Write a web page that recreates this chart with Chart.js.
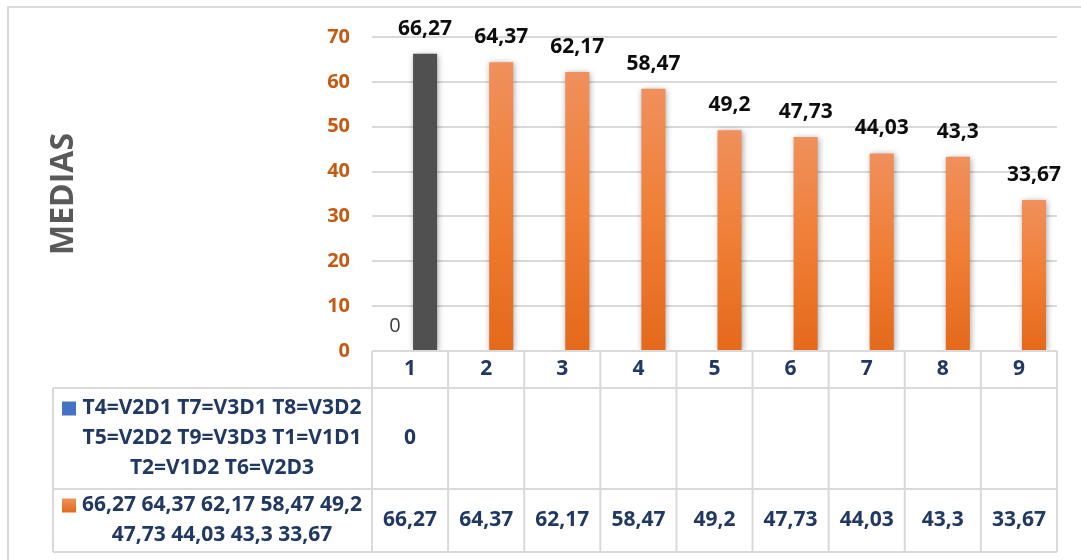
<!DOCTYPE html>
<html>
<head>
<meta charset="utf-8">
<title>Medias</title>
<script src="https://cdn.jsdelivr.net/npm/chart.js@4.4.1/dist/chart.umd.min.js"></script>
<style>
  html, body { margin:0; padding:0; background:#fff; }
  #wrap { width:1081px; height:560px; }
</style>
</head>
<body>
<div id="wrap"><canvas id="chart" width="1081" height="560"></canvas></div>
<script>
// category numbers along the x axis
const categories = ['1','2','3','4','5','6','7','8','9'];
// series 1: only the first category carries a value
const seriesA = [0, null, null, null, null, null, null, null, null];
const seriesAName = ['T4=V2D1 T7=V3D1 T8=V3D2', 'T5=V2D2 T9=V3D3 T1=V1D1', 'T2=V1D2 T6=V2D3'];
// series 2: means per treatment
const seriesB = [66.27, 64.37, 62.17, 58.47, 49.2, 47.73, 44.03, 43.3, 33.67];
const seriesBName = ['66,27 64,37 62,17 58,47 49,2', '47,73 44,03 43,3 33,67'];
const yTicks = [0, 10, 20, 30, 40, 50, 60, 70];

const FONT = '"Open Sans", Lato, sans-serif';
const NAVY = '#203864';
const GRID = '#D9D9D9';
const BLUE = '#4472C4';

// table geometry below the plot
const headerH = 37, row1H = 101, row2H = 63, tableLeft = 53;

function fmt(v){ return String(v).replace('.', ','); }

function orangeFill(ctx){
  if(ctx.type !== 'data') return '#ED7D31';
  if(ctx.dataIndex === 0) return '#505050';
  const chart = ctx.chart;
  const y = chart.scales.y;
  if(!y || !chart.chartArea) return '#ED7D31';
  const top = y.getPixelForValue(ctx.raw);
  const bottom = y.getPixelForValue(0);
  const g = chart.ctx.createLinearGradient(0, top, 0, bottom);
  g.addColorStop(0, '#F0905C');
  g.addColorStop(0.5, '#F07E35');
  g.addColorStop(1, '#E4691B');
  return g;
}

// frame line, bar shadows, value labels and the data table
const excelLook = {
  id: 'excelLook',
  beforeDraw(chart){
    const c = chart.ctx;
    c.save();
    c.fillStyle = '#fff';
    c.fillRect(0, 0, chart.width, chart.height);
    c.strokeStyle = GRID; c.lineWidth = 2;
    c.beginPath();
    c.moveTo(8, chart.height); c.lineTo(8, 7); c.lineTo(chart.width, 7);
    c.stroke();
    c.restore();
  },
  beforeDatasetsDraw(chart){
    const c = chart.ctx;
    c.save();
    c.shadowColor = 'rgba(0,0,0,0.35)';
    c.shadowBlur = 6;
    c.shadowOffsetX = 1;
    c.shadowOffsetY = 1;
  },
  afterDatasetsDraw(chart){
    const c = chart.ctx;
    c.restore();
    c.save();
    c.textAlign = 'center'; c.textBaseline = 'middle';
    chart.data.datasets.forEach((ds, di) => {
      const meta = chart.getDatasetMeta(di);
      meta.data.forEach((bar, i) => {
        const v = ds.data[i];
        if(v === null || v === undefined) return;
        if(di === 0){ c.font = '20px ' + FONT; c.fillStyle = '#404040'; }
        else { c.font = 'bold 21px ' + FONT; c.fillStyle = '#0D0D0D'; }
        c.fillText(fmt(v), bar.x, bar.y - 25);
      });
    });
    c.restore();
  },
  afterDraw(chart){
    const c = chart.ctx;
    const area = chart.chartArea;
    const x = chart.scales.x;
    const n = categories.length;
    const edges = [area.left];
    for(let i = 1; i < n; i++) edges.push((x.getPixelForValue(i - 1) + x.getPixelForValue(i)) / 2);
    edges.push(area.right);
    const y0 = area.bottom, y1 = y0 + headerH, y2 = y1 + row1H, y3 = y2 + row2H;

    c.save();
    c.strokeStyle = GRID; c.lineWidth = 2;
    c.beginPath();
    c.moveTo(area.left, y0); c.lineTo(area.right, y0);
    [y1, y2, y3].forEach(yy => { c.moveTo(tableLeft, yy); c.lineTo(area.right, yy); });
    c.moveTo(tableLeft, y1); c.lineTo(tableLeft, y3);
    edges.forEach(ex => { c.moveTo(ex, y0); c.lineTo(ex, y3); });
    c.stroke();

    c.textAlign = 'center'; c.textBaseline = 'middle';
    c.font = 'bold 21px ' + FONT;
    c.fillStyle = NAVY;
    categories.forEach((lab, i) => c.fillText(lab, (edges[i] + edges[i + 1]) / 2, y0 + headerH / 2));

    // series name cells with their colour keys
    const nameX = 222;
    const rowsInfo = [
      { lines: seriesAName, top: y1, h: row1H, key: BLUE, data: seriesA },
      { lines: seriesBName, top: y2, h: row2H, key: 'orange', data: seriesB }
    ];
    rowsInfo.forEach(r => {
      const lh = 30;
      const startY = r.top + r.h / 2 - (r.lines.length - 1) * lh / 2;
      r.lines.forEach((ln, k) => c.fillText(ln, nameX, startY + k * lh));
      const ky = startY - 7;
      if(r.key === 'orange'){
        const g = c.createLinearGradient(0, ky, 0, ky + 14);
        g.addColorStop(0, '#F0905C'); g.addColorStop(1, '#E4691B');
        c.fillStyle = g;
      } else c.fillStyle = r.key;
      c.fillRect(62, ky, 14, 14);
      c.fillStyle = NAVY;
      r.data.forEach((v, i) => {
        if(v === null) return;
        c.fillText(fmt(v), (edges[i] + edges[i + 1]) / 2, r.top + r.h / 2);
      });
    });
    c.restore();
  }
};

new Chart(document.getElementById('chart'), {
  type: 'bar',
  data: {
    labels: categories,
    datasets: [
      { label: seriesAName.join(' '), data: seriesA, backgroundColor: BLUE,
        categoryPercentage: 0.79, barPercentage: 0.8 },
      { label: seriesBName.join(' '), data: seriesB, backgroundColor: orangeFill,
        categoryPercentage: 0.79, barPercentage: 0.8 }
    ]
  },
  options: {
    responsive: false,
    devicePixelRatio: 1,
    animation: false,
    layout: { padding: { left: 8, top: 37, right: 24, bottom: 209 } },
    plugins: { legend: { display: false }, tooltip: { enabled: false } },
    scales: {
      x: { display: false },
      y: {
        min: 0, max: 70,
        afterFit(scale){ scale.width = 364; },
        afterBuildTicks(scale){ scale.ticks = yTicks.map(v => ({ value: v })); },
        ticks: { color: '#C55A11', font: { family: FONT, size: 20, weight: 'bold' }, padding: 22 },
        grid: { color: GRID, lineWidth: 2, drawTicks: false },
        border: { display: false },
        title: { display: true, text: 'MEDIAS', color: '#595959',
                 font: { family: FONT, size: 32, weight: 'bold' }, padding: { top: 37, bottom: 0 } }
      }
    }
  },
  plugins: [excelLook]
});
</script>
</body>
</html>
